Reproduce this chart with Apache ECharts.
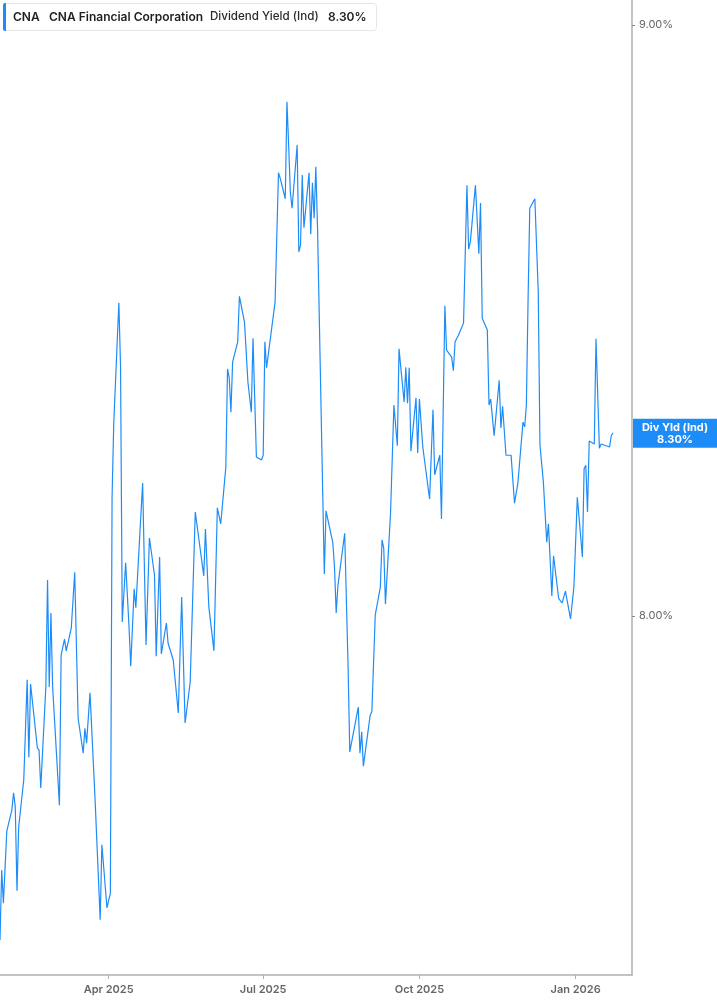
<!DOCTYPE html>
<html>
<head>
<meta charset="utf-8">
<title>CNA Dividend Yield</title>
<script src="https://cdn.jsdelivr.net/npm/echarts@6/dist/echarts.min.js"></script>
<style>
    html, body { margin: 0; padding: 0; background: #fff; }
    #yieldChart { width: 717px; height: 1005px; }
</style>
</head>
<body>
<div id="yieldChart"></div>
<script>
// data
var dates = [
    '2025-01-27', '2025-01-28', '2025-01-29', '2025-01-31', '2025-02-03', '2025-02-04', '2025-02-05', '2025-02-06',
    '2025-02-07', '2025-02-10', '2025-02-12', '2025-02-13', '2025-02-14', '2025-02-18', '2025-02-19', '2025-02-20',
    '2025-02-23', '2025-02-24', '2025-02-25', '2025-02-26', '2025-02-27', '2025-03-03', '2025-03-04', '2025-03-05',
    '2025-03-06', '2025-03-07', '2025-03-10', '2025-03-12', '2025-03-14', '2025-03-17', '2025-03-18', '2025-03-19',
    '2025-03-21', '2025-03-24', '2025-03-25', '2025-03-27', '2025-03-28', '2025-03-31', '2025-04-02', '2025-04-03',
    '2025-04-04', '2025-04-07', '2025-04-08', '2025-04-09', '2025-04-11', '2025-04-13', '2025-04-14', '2025-04-16',
    '2025-04-17', '2025-04-21', '2025-04-23', '2025-04-25', '2025-04-28', '2025-04-29', '2025-05-01', '2025-05-02',
    '2025-05-05', '2025-05-06', '2025-05-09', '2025-05-12', '2025-05-14', '2025-05-16', '2025-05-19', '2025-05-22',
    '2025-05-23', '2025-05-27', '2025-05-28', '2025-05-30', '2025-06-02', '2025-06-04', '2025-06-05', '2025-06-06',
    '2025-06-09', '2025-06-10', '2025-06-11', '2025-06-12', '2025-06-13', '2025-06-16', '2025-06-17', '2025-06-20',
    '2025-06-22', '2025-06-24', '2025-06-25', '2025-06-27', '2025-06-30', '2025-07-01', '2025-07-02', '2025-07-03',
    '2025-07-08', '2025-07-10', '2025-07-11', '2025-07-14', '2025-07-15', '2025-07-16', '2025-07-17', '2025-07-18',
    '2025-07-21', '2025-07-22', '2025-07-23', '2025-07-24', '2025-07-25', '2025-07-28', '2025-07-29', '2025-07-30',
    '2025-07-31', '2025-08-01', '2025-08-02', '2025-08-06', '2025-08-07', '2025-08-08', '2025-08-11', '2025-08-12',
    '2025-08-13', '2025-08-14', '2025-08-15', '2025-08-18', '2025-08-20', '2025-08-21', '2025-08-22', '2025-08-26',
    '2025-08-27', '2025-08-28', '2025-08-29', '2025-09-02', '2025-09-03', '2025-09-04', '2025-09-05', '2025-09-08',
    '2025-09-09', '2025-09-10', '2025-09-11', '2025-09-14', '2025-09-16', '2025-09-18', '2025-09-19', '2025-09-22',
    '2025-09-23', '2025-09-24', '2025-09-25', '2025-09-26', '2025-09-29', '2025-09-30', '2025-10-01', '2025-10-03',
    '2025-10-07', '2025-10-09', '2025-10-10', '2025-10-13', '2025-10-14', '2025-10-16', '2025-10-17', '2025-10-20',
    '2025-10-21', '2025-10-22', '2025-10-24', '2025-10-27', '2025-10-29', '2025-10-30', '2025-10-31', '2025-11-03',
    '2025-11-05', '2025-11-06', '2025-11-07', '2025-11-10', '2025-11-11', '2025-11-12', '2025-11-14', '2025-11-17',
    '2025-11-18', '2025-11-19', '2025-11-21', '2025-11-24', '2025-11-26', '2025-11-28', '2025-12-01', '2025-12-02',
    '2025-12-03', '2025-12-04', '2025-12-05', '2025-12-08', '2025-12-10', '2025-12-11', '2025-12-13', '2025-12-15',
    '2025-12-16', '2025-12-18', '2025-12-19', '2025-12-22', '2025-12-24', '2025-12-26', '2025-12-29', '2025-12-31',
    '2026-01-02', '2026-01-05', '2026-01-06', '2026-01-07', '2026-01-08', '2026-01-09', '2026-01-12', '2026-01-13',
    '2026-01-15', '2026-01-16', '2026-01-21', '2026-01-22', '2026-01-23'
];
var yields = [
    7.452, 7.570, 7.514, 7.636, 7.672, 7.701, 7.677, 7.535,
    7.643, 7.723, 7.892, 7.761, 7.885, 7.777, 7.773, 7.709,
    7.880, 8.061, 7.880, 8.005, 7.880, 7.680, 7.934, 7.936,
    7.961, 7.941, 7.980, 8.074, 7.827, 7.768, 7.810, 7.785,
    7.870, 7.689, 7.687, 7.486, 7.613, 7.506, 7.531, 8.201,
    8.327, 8.530, 8.421, 7.990, 8.090, 7.981, 7.915, 8.046,
    8.014, 8.225, 7.951, 8.132, 8.069, 7.932, 8.100, 7.936,
    7.988, 7.954, 7.926, 7.836, 8.032, 7.819, 7.888, 8.176,
    8.178, 8.068, 8.147, 8.015, 7.941, 8.183, 8.183, 8.156,
    8.252, 8.418, 8.403, 8.345, 8.430, 8.464, 8.541, 8.497,
    8.396, 8.345, 8.470, 8.269, 8.264, 8.272, 8.464, 8.420,
    8.531, 8.750, 8.741, 8.706, 8.870, 8.797, 8.717, 8.690,
    8.797, 8.616, 8.628, 8.746, 8.657, 8.750, 8.646, 8.733,
    8.673, 8.760, 8.658, 8.071, 8.178, 8.178, 8.124, 8.083,
    8.005, 8.051, 8.049, 8.140, 7.914, 7.770, 7.768, 7.846,
    7.768, 7.804, 7.746, 7.832, 7.838, 7.836, 8.002, 8.049,
    8.129, 8.115, 8.020, 8.174, 8.357, 8.288, 8.452, 8.362,
    8.421, 8.360, 8.420, 8.279, 8.369, 8.276, 8.367, 8.286,
    8.198, 8.349, 8.239, 8.272, 8.164, 8.525, 8.450, 8.438,
    8.415, 8.464, 8.475, 8.496, 8.729, 8.621, 8.633, 8.729,
    8.613, 8.699, 8.504, 8.484, 8.357, 8.367, 8.305, 8.399,
    8.318, 8.355, 8.272, 8.272, 8.191, 8.225, 8.328, 8.320,
    8.357, 8.535, 8.690, 8.706, 8.548, 8.289, 8.227, 8.125,
    8.156, 8.034, 8.102, 8.030, 8.022, 8.042, 7.995, 8.049,
    8.201, 8.100, 8.249, 8.255, 8.176, 8.296, 8.291, 8.469,
    8.284, 8.291, 8.286, 8.305, 8.310
];
var xTickDates = ['2025-04-01', '2025-07-01', '2025-10-01', '2026-01-01'];
var xTickLabels = ['Apr 2025', 'Jul 2025', 'Oct 2025', 'Jan 2026'];
var yTicks = [8, 9];
var lastYieldText = '8.30%';

var lineColor = '#1e8cf7';
var axisColor = '#b0b0b0';

function toTime(s) {
    var p = s.split('-');
    return new Date(+p[0], +p[1] - 1, +p[2]).getTime();
}

var seriesData = [];
for (var i = 0; i < dates.length; i++) {
    seriesData.push([toTime(dates[i]), yields[i]]);
}
var xTickTimes = xTickDates.map(toTime);

var myChart = echarts.init(document.getElementById('yieldChart'), null, { renderer: 'canvas' });

// x axis is a plain value axis over timestamps so the quarter ticks can be fixed
var option = {
    animation: false,
    backgroundColor: '#ffffff',
    grid: {
        left: 0,
        right: 85,
        top: 0,
        bottom: 30,
        containLabel: false
    },
    xAxis: {
        type: 'value',
        min: toTime('2025-01-27'),
        max: toTime('2026-02-03') + 5 * 3600 * 1000,
        axisLine: { show: true, lineStyle: { color: axisColor, width: 1.5 } },
        axisTick: {
            show: true,
            length: 4,
            customValues: xTickTimes,
            lineStyle: { color: axisColor }
        },
        axisLabel: {
            customValues: xTickTimes,
            margin: 9,
            color: '#666666',
            fontFamily: 'Inter',
            fontSize: 11,
            fontWeight: 600,
            formatter: function(val) {
                for (var k = 0; k < xTickTimes.length; k++) {
                    if (Math.abs(xTickTimes[k] - val) < 1000) return xTickLabels[k];
                }
                return '';
            }
        },
        splitLine: { show: false }
    },
    yAxis: {
        type: 'value',
        position: 'right',
        min: 7.3926,
        max: 9.0423,
        axisLine: { show: true, lineStyle: { color: axisColor, width: 1.5 } },
        axisTick: {
            show: true,
            length: 3,
            customValues: yTicks,
            lineStyle: { color: '#888888' }
        },
        axisLabel: {
            customValues: yTicks,
            margin: 7,
            color: '#666666',
            fontFamily: 'Inter',
            fontSize: 11,
            formatter: function(v) {
                return v.toFixed(2) + '%';
            }
        },
        splitLine: { show: false }
    },
    series: [{
        name: 'Dividend Yield (Ind)',
        type: 'line',
        data: seriesData,
        showSymbol: false,
        symbol: 'none',
        lineStyle: { color: lineColor, width: 1.2 },
        itemStyle: { color: lineColor }
    }]
};

myChart.setOption(option);

// header box + end label on the y axis
var labelY = myChart.convertToPixel({ yAxisIndex: 0 }, yields[yields.length - 1]);
var headFont = 'Inter';

myChart.setOption({
    graphic: [{
        type: 'rect',
        shape: { x: 3.5, y: 3.5, width: 373, height: 27, r: 3 },
        style: { fill: '#ffffff', stroke: '#e6e6e6', lineWidth: 1 },
        z: 100
    }, {
        type: 'rect',
        shape: { x: 3, y: 3, width: 3, height: 28, r: [2, 0, 0, 2] },
        style: { fill: lineColor },
        z: 101
    }, {
        type: 'text',
        x: 13, y: 17,
        style: { text: 'CNA', fill: '#1f1f1f', font: '600 12px ' + headFont, verticalAlign: 'middle' },
        z: 101
    }, {
        type: 'text',
        x: 49, y: 17,
        style: { text: 'CNA Financial Corporation', fill: '#1f1f1f', font: '600 12px ' + headFont, verticalAlign: 'middle' },
        z: 101
    }, {
        type: 'text',
        x: 210, y: 17,
        style: { text: 'Dividend Yield (Ind)', fill: '#2a2a2a', font: '500 11.6px ' + headFont, verticalAlign: 'middle' },
        z: 101
    }, {
        type: 'text',
        x: 328, y: 17,
        style: { text: lastYieldText, fill: '#1f1f1f', font: '600 12px ' + headFont, verticalAlign: 'middle' },
        z: 101
    }, {
        type: 'rect',
        shape: { x: 633, y: labelY - 14, width: 84, height: 29 },
        style: { fill: lineColor },
        z: 100
    }, {
        type: 'text',
        x: 675, y: labelY + 0.5,
        style: {
            text: 'Div Yld (Ind)\n' + lastYieldText,
            fill: '#ffffff',
            font: 'bold 11px ' + headFont,
            lineHeight: 12,
            align: 'center',
            verticalAlign: 'middle'
        },
        z: 101
    }]
});
</script>
</body>
</html>
